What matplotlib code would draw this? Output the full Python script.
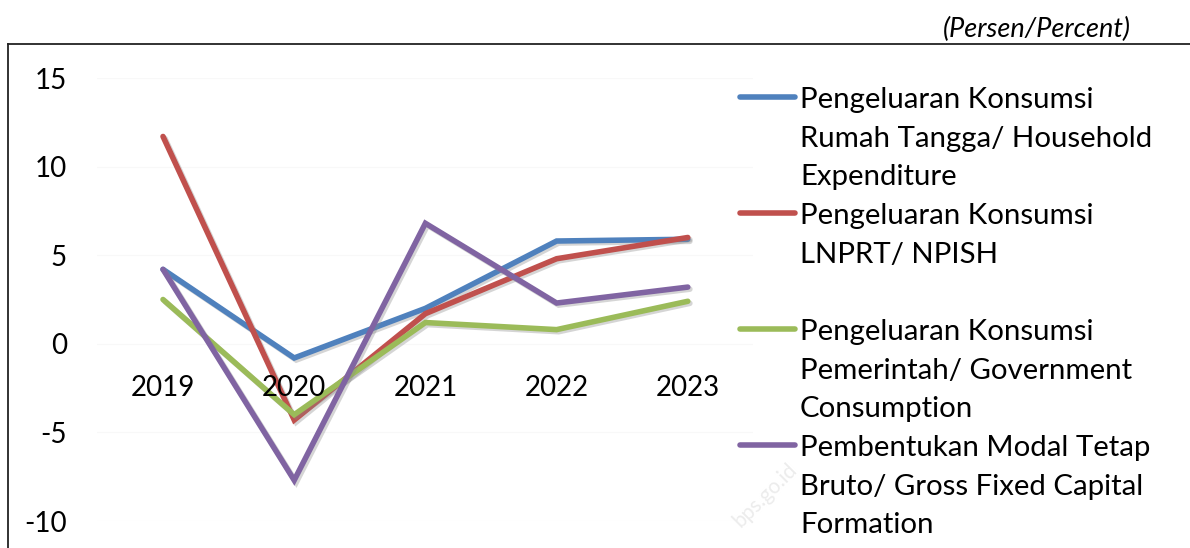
import matplotlib
matplotlib.use("Agg")
import matplotlib.pyplot as plt
import matplotlib.patheffects as pe
from matplotlib.lines import Line2D

plt.rcParams['font.family'] = ['Lato', 'DejaVu Sans']
plt.rcParams['axes.unicode_minus'] = False

years = ['2019', '2020', '2021', '2022', '2023']
rumah_tangga = [4.2, -0.8, 2.0, 5.8, 5.9]
lnprt = [11.7, -4.3, 1.7, 4.8, 6.0]
pemerintah = [2.5, -4.0, 1.2, 0.8, 2.4]
pmtb = [4.2, -7.7, 6.8, 2.3, 3.2]

labels = [
    ['Pengeluaran Konsumsi', 'Rumah Tangga/ Household', 'Expenditure'],
    ['Pengeluaran Konsumsi', 'LNPRT/ NPISH'],
    ['Pengeluaran Konsumsi', 'Pemerintah/ Government', 'Consumption'],
    ['Pembentukan Modal Tetap', 'Bruto/ Gross Fixed Capital', 'Formation'],
]
series = [rumah_tangga, lnprt, pemerintah, pmtb]
colors = ['#4F81BD', '#C0504D', '#9BBB59', '#8064A2']

W, H = 1190, 548
fig = plt.figure(figsize=(W / 100, H / 100), dpi=100)

# plot area in pixels: x 97..754, y 78 (15) .. 521 (-10)
ax = fig.add_axes([97.4 / W, 1 - 521 / H, 656 / W, (521 - 78) / H])
ax.set_xlim(-0.5, 4.5)
ax.set_ylim(-10, 15)
ax.set_yticks([-10, -5, 0, 5, 10, 15])
ax.set_xticks([])
for s in ax.spines.values():
    s.set_visible(False)
ax.tick_params(axis='y', length=0, pad=22, labelsize=20)
ax.grid(axis='y', color='#f8f8f8', lw=0.8)
ax.set_axisbelow(True)

shadow = [pe.SimpleLineShadow(offset=(1.5, -1.5), shadow_color='#888888', alpha=0.35),
          pe.Normal()]
x = list(range(len(years)))
for vals, c in zip(series, colors):
    ax.plot(x, vals, color=c, lw=4.0, solid_joinstyle='miter',
            solid_capstyle='round', path_effects=shadow)

for i, yr in enumerate(years):
    ax.annotate(yr, (i, 0), xytext=(0, -37.4), textcoords='offset points',
                ha='center', va='baseline', fontsize=20)

# legend
line_h = 38.7
for i, (lab, c) in enumerate(zip(labels, colors)):
    y0 = 97 + 116 * i
    fig.add_artist(Line2D([740 / W, 795 / W], [1 - y0 / H] * 2, color=c, lw=4.0,
                          solid_capstyle='round', transform=fig.transFigure))
    for k, t in enumerate(lab):
        fig.text(800 / W, 1 - (y0 + 11 + k * line_h) / H, t, fontsize=21.2,
                 va='baseline', ha='left')

# frame
top = 1 - 44 / H
fig.add_artist(Line2D([8 / W, 1], [top, top], color='#222222', lw=1.3,
                      transform=fig.transFigure))
fig.add_artist(Line2D([8 / W, 8 / W], [0, top], color='#222222', lw=1.3,
                      transform=fig.transFigure))

fig.text(1131 / W, 1 - 37 / H, '(Persen/Percent)', fontsize=19.5, style='italic',
         ha='right', va='baseline')

# faint watermark
fig.text(765 / W, 1 - 495 / H, 'bps.go.id', fontsize=15, color='#ececec',
         rotation=45, ha='center', va='center', zorder=0)

fig.savefig('out.png', dpi=100)
